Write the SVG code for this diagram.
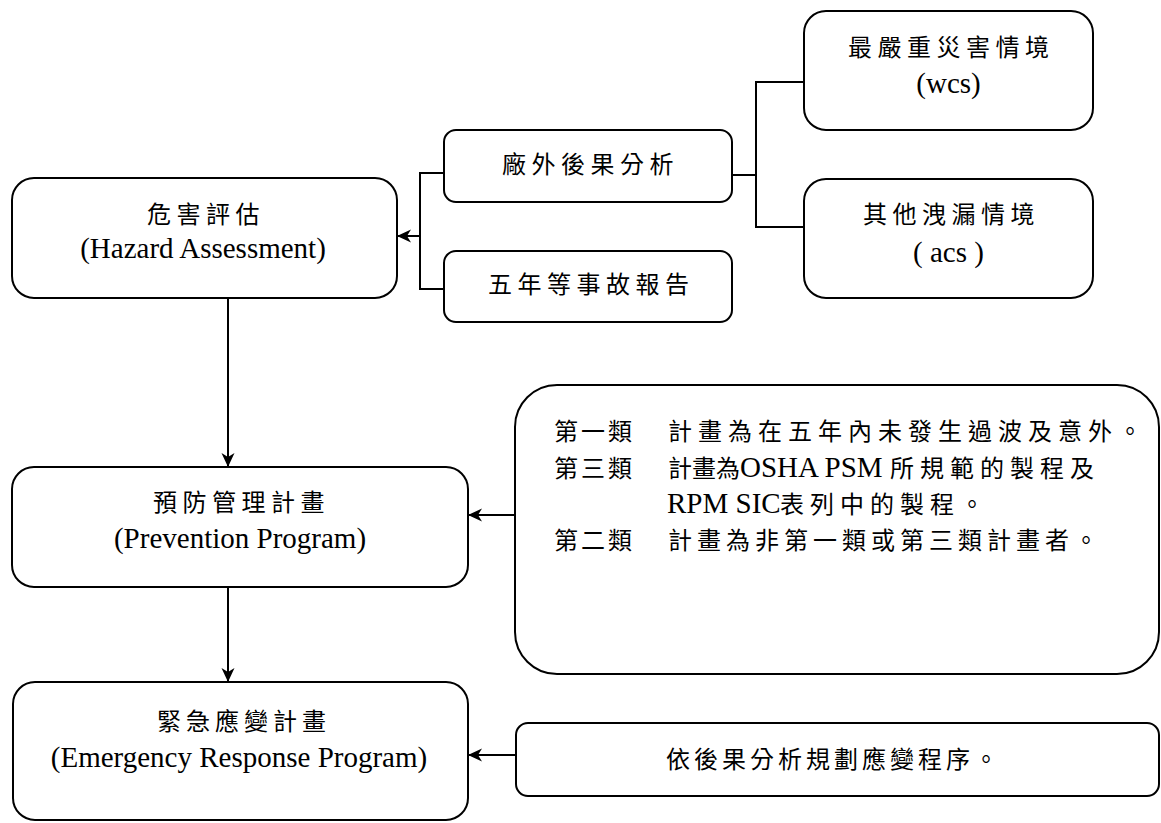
<svg xmlns="http://www.w3.org/2000/svg" width="1161" height="823" viewBox="0 0 1161 823">
<style>
.box{fill:#fff;stroke:#000;stroke-width:2}
.ln{fill:none;stroke:#000;stroke-width:2}
.cjk{font-family:"Noto Sans CJK TC","Noto Sans CJK SC",sans-serif;font-size:24px;fill:#000;letter-spacing:5.5px}
.lat{font-family:"Liberation Serif","Noto Sans CJK TC",serif;font-size:29px;fill:#000}
.mid{text-anchor:middle}
</style>
<defs>
<marker id="ah" viewBox="0 0 14 14" markerWidth="14" markerHeight="14" refX="14" refY="7" orient="auto" markerUnits="userSpaceOnUse">
<path d="M0,0.5 L14,7 L0,13.5 L4,7 Z" fill="#000"/>
</marker>
</defs>

<g id="connectors">
<path class="ln" d="M444,173 H420 V289 H444"/>
<path class="ln" d="M420,236 H397" marker-end="url(#ah)"/>
<path class="ln" d="M732,175 H756"/>
<path class="ln" d="M804,82 H756 V227 H804"/>
<path class="ln" d="M228,298 V467" marker-end="url(#ah)"/>
<path class="ln" d="M228,587 V682" marker-end="url(#ah)"/>
<path class="ln" d="M515,515 H468" marker-end="url(#ah)"/>
<path class="ln" d="M516,755 H468" marker-end="url(#ah)"/>
</g>

<g id="hazard">
<rect class="box" x="12" y="178" width="385" height="120" rx="22"/>
<text class="cjk" x="147" y="223">危害評估</text>
<text class="lat mid" x="203" y="258">(Hazard Assessment)</text>
</g>

<g id="offsite">
<rect class="box" x="444" y="130" width="288" height="72" rx="12"/>
<text class="cjk" x="502" y="173">廠外後果分析</text>
</g>

<g id="accident5">
<rect class="box" x="444" y="251" width="288" height="71" rx="12"/>
<text class="cjk" x="488" y="293">五年等事故報告</text>
</g>

<g id="wcs">
<rect class="box" x="804" y="11" width="289" height="119" rx="22"/>
<text class="cjk" x="848" y="56">最嚴重災害情境</text>
<text class="lat mid" x="948.5" y="93">(wcs)</text>
</g>

<g id="acs">
<rect class="box" x="804" y="179" width="289" height="119" rx="22"/>
<text class="cjk" x="863" y="223">其他洩漏情境</text>
<text class="lat mid" x="948.5" y="262" xml:space="preserve">( acs )</text>
</g>

<g id="prevention">
<rect class="box" x="12" y="467" width="456" height="120" rx="22"/>
<text class="cjk" x="153" y="511">預防管理計畫</text>
<text class="lat mid" x="240" y="548">(Prevention Program)</text>
</g>

<g id="program-levels">
<rect class="box" x="515" y="385" width="644" height="289" rx="42"/>
<text class="cjk" x="554" y="440" style="letter-spacing:3px">第一類</text>
<text class="cjk" x="668" y="440" style="letter-spacing:6px">計畫為在五年內未發生過波及意外。</text>
<text class="cjk" x="554" y="477" style="letter-spacing:3px">第三類</text>
<text class="cjk" x="668" y="477" style="letter-spacing:0px">計畫為</text>
<text class="lat" x="740" y="477">OSHA PSM</text>
<text class="cjk" x="890" y="477" style="letter-spacing:6px">所規範的製程及</text>
<text class="lat" x="667" y="513">RPM SIC</text>
<text class="cjk" x="780" y="513" style="letter-spacing:6px">表列中的製程。</text>
<text class="cjk" x="554" y="549" style="letter-spacing:3px">第二類</text>
<text class="cjk" x="668" y="549" style="letter-spacing:5px">計畫為非第一類或第三類計畫者。</text>
</g>

<g id="emergency">
<rect class="box" x="13" y="682" width="455" height="138" rx="22"/>
<text class="cjk" x="157" y="730" style="letter-spacing:5px">緊急應變計畫</text>
<text class="lat mid" x="239" y="767">(Emergency Response Program)</text>
</g>

<g id="response-proc">
<rect class="box" x="516" y="723" width="643" height="73" rx="12"/>
<text class="cjk" x="666" y="768" style="letter-spacing:4px">依後果分析規劃應變程序。</text>
</g>
</svg>
